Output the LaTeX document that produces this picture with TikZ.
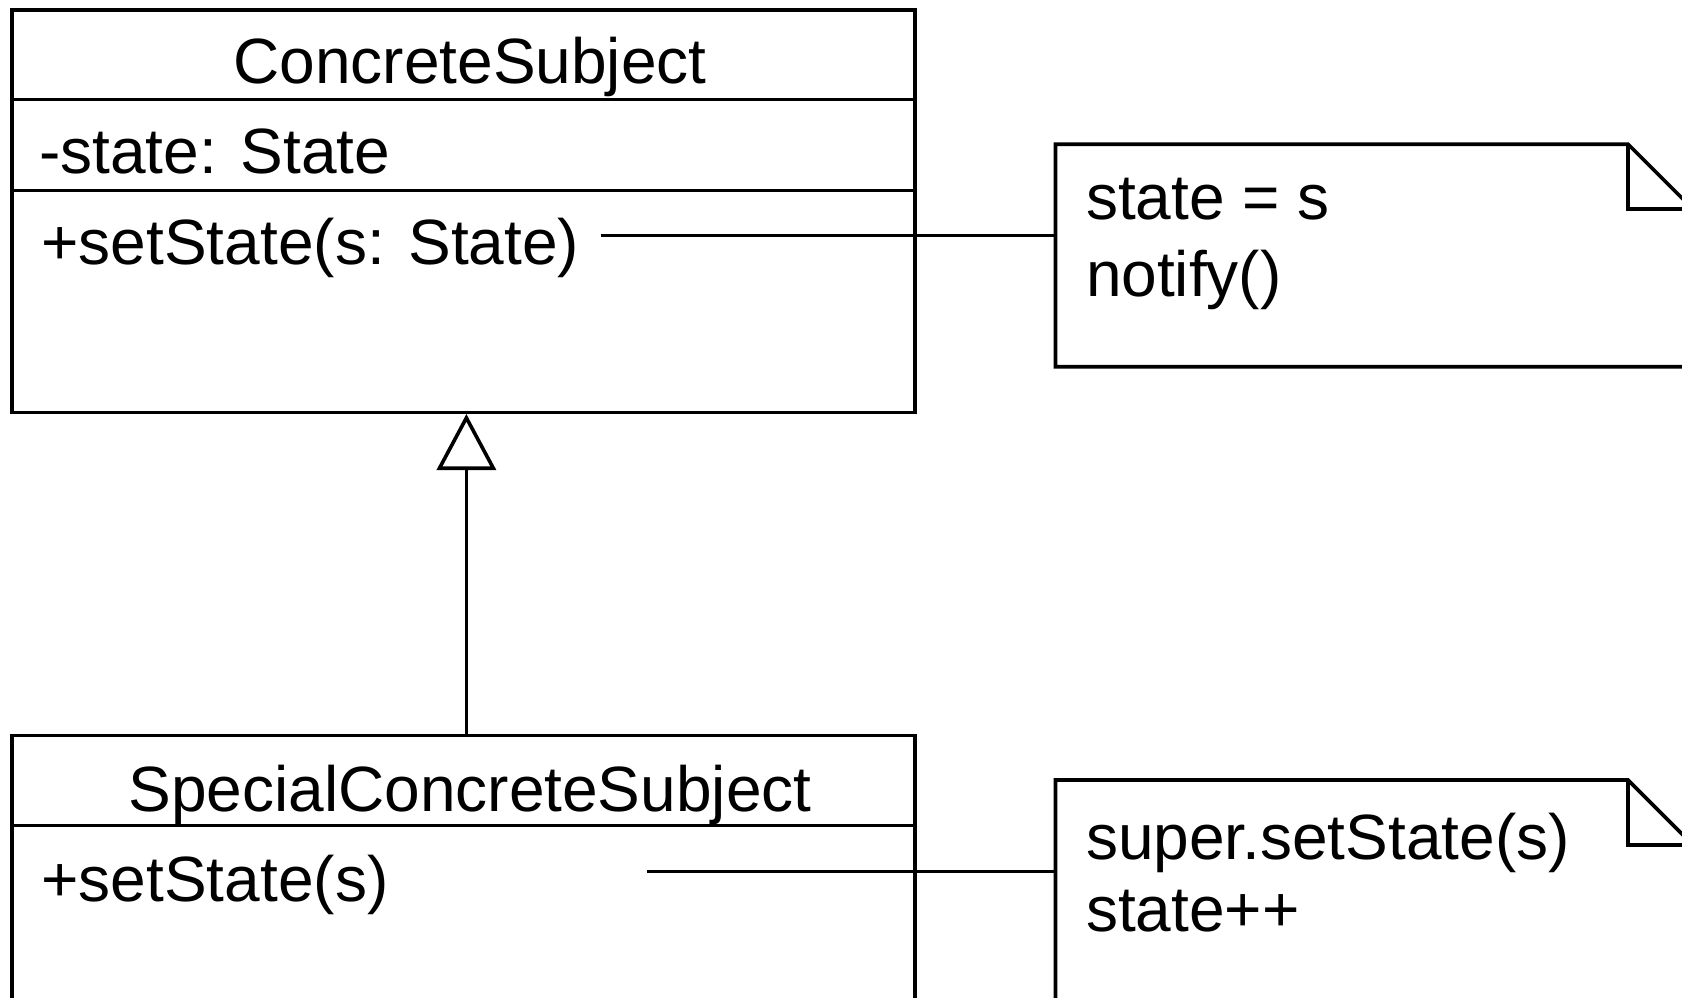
\documentclass[tikz,border=0pt]{standalone}
\usepackage{fontspec}
\setmainfont{Liberation Sans}
\usetikzlibrary{arrows.meta}
\begin{document}
\begin{tikzpicture}[x=1pt, y=-1pt, line width=3.6pt,
  umlbox/.style={draw, rectangle, inner sep=0pt, outer sep=0pt, anchor=north west},
  notebox/.style={rectangle, inner sep=0pt, outer sep=0pt, anchor=north west,
                  minimum width=637.5pt, minimum height=222.5pt},
  lbl/.style={inner sep=0pt, outer sep=0pt, anchor=base west,
              font=\fontsize{64}{76}\selectfont},
  classname/.style={lbl, anchor=base},
  inherit/.style={-{Triangle[open, length=56pt, width=59pt]}, line join=miter},
  fold/.store in=\foldsize, fold=65pt]
\useasboundingbox (0,0) rectangle (1682,998);
\clip (0,0) rectangle (1682,998);

% ConcreteSubject class
\node[umlbox, minimum width=903.4pt, minimum height=402.5pt] (cs) at (11.8,10) {};
\draw ([yshift=-89.5pt]cs.north west) -- ([yshift=-89.5pt]cs.north east);
\draw ([yshift=-180.5pt]cs.north west) -- ([yshift=-180.5pt]cs.north east);
\node[classname] (csname) at (470,83.5) {ConcreteSubject};
\node[lbl] (csattr) at (39,173.5) {-state: State};
\node[lbl] (csop) at (41.5,264) {+setState(s: State)};

% SpecialConcreteSubject class
\node[umlbox, minimum width=903.4pt, minimum height=400pt] (scs) at (11.8,735.5) {};
\draw ([yshift=-90pt]scs.north west) -- ([yshift=-90pt]scs.north east);
\node[classname] (scsname) at (470,811) {SpecialConcreteSubject};
\node[lbl] (scsop) at (41.5,901) {+setState(s)};

% Notes with folded corner
\node[notebox] (n1) at (1055.5,144.2) {};
\node[notebox] (n2) at (1055.5,780) {};
\foreach \n in {n1,n2}{
  \draw (\n.north west) -- ([xshift=-\foldsize]\n.north east)
        -- ([yshift=-\foldsize]\n.north east) -- (\n.south east)
        -- (\n.south west) -- cycle;
  \draw ([xshift=-\foldsize]\n.north east) |- ([yshift=-\foldsize]\n.north east);
}
\node[lbl] (n1a) at (1086,219.5) {state = s};
\node[lbl] (n1b) at (1086,296) {notify()};
\node[lbl] (n2a) at (1086,859) {super.setState(s)};
\node[lbl] (n2b) at (1086,931.5) {state++};

% Note attachments
\coordinate (c1) at (600.8,235.3);
\draw (c1) -- (c1 -| n1.west);
\coordinate (c2) at (646.5,871.5);
\draw (c2) -- (c2 -| n2.west);

% Generalization
\coordinate (g) at (466.4,0);
\coordinate (gtip) at (466.4,414);
\draw[inherit] (g |- scs.north) -- (gtip);
\end{tikzpicture}
\end{document}
